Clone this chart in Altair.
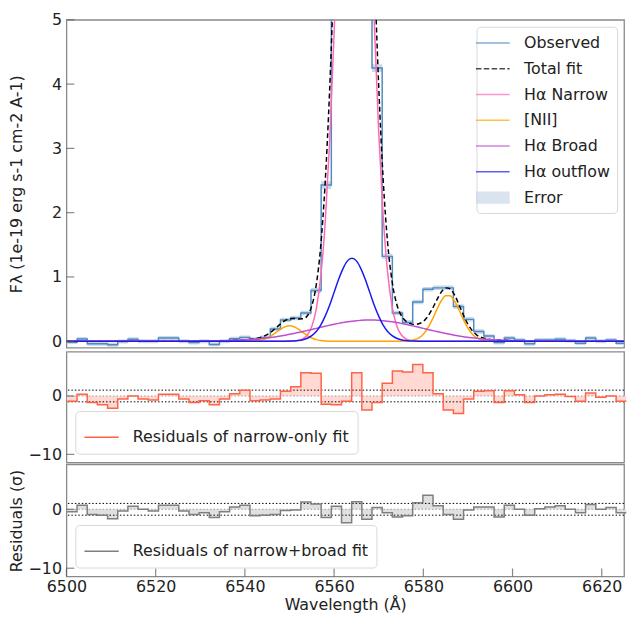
import altair as alt
import pandas as pd

# ---------------- data ----------------
# left edges of the spectral bins (last value = right edge of final bin)
bin_edges = [6500.1, 6502.38, 6504.66, 6506.94, 6509.22, 6511.5, 6513.78, 6516.06, 6518.34, 6520.62,
             6522.9, 6525.18, 6527.46, 6529.74, 6532.02, 6534.3, 6536.58, 6538.86, 6541.14, 6543.42,
             6545.7, 6547.98, 6550.26, 6552.54, 6554.82, 6557.1, 6559.38, 6561.66, 6563.94, 6566.22,
             6568.5, 6570.78, 6573.06, 6575.34, 6577.62, 6579.9, 6582.18, 6584.46, 6586.74, 6589.02,
             6591.3, 6593.58, 6595.86, 6598.14, 6600.42, 6602.7, 6604.98, 6607.26, 6609.54, 6611.82,
             6614.1, 6616.38, 6618.66, 6620.94, 6623.22, 6625.5]

observed = [-0.015, 0.035, -0.04, -0.04, -0.055, -0.005, 0.03, 0.0, 0.0, 0.05,
            0.05, 0.0, -0.02, 0.0, -0.05, 0.0, 0.04, 0.06, 0.03, 0.06,
            0.19, 0.33, 0.36, 0.44, 0.79, 2.43, 9.0, 14.0, 13.0, 7.5,
            4.25, 1.32, 0.44, 0.29, 0.61, 0.81, 0.83, 0.83, 0.54, 0.34,
            0.15, 0.08, -0.02, 0.05, 0.02, -0.04, 0.02, 0.02, 0.03, 0.01,
            -0.03, 0.05, 0.0, 0.02, -0.03]

error = [0.03, 0.03, 0.03, 0.03, 0.03, 0.03, 0.03, 0.03, 0.03, 0.03,
         0.03, 0.03, 0.03, 0.03, 0.03, 0.03, 0.03, 0.03, 0.03, 0.03,
         0.035, 0.035, 0.035, 0.035, 0.04, 0.06, 0.1, 0.1, 0.1, 0.1,
         0.06, 0.04, 0.035, 0.035, 0.035, 0.035, 0.035, 0.035, 0.035, 0.035,
         0.035, 0.03, 0.03, 0.03, 0.03, 0.03, 0.03, 0.03, 0.03, 0.03,
         0.03, 0.03, 0.03, 0.03, 0.03]

resid_narrow = [-0.9, 0.3, -1.1, -1.5, -2.1, -0.5, 0.0, -0.5, -0.7, 0.3,
                0.3, -0.5, -1.1, -0.8, -1.5, -0.5, 0.4, 1.0, -0.8, -0.7,
                -0.5, 0.8, 1.6, 4.0, 3.9, -1.4, -1.5, -0.9, 4.0, -2.4,
                -1.1, 2.2, 4.3, 4.1, 5.4, 4.0, 0.4, -2.4, -3.0, -0.5,
                0.8, 0.9, -1.1, 0.9, 0.2, -1.1, 0.0, 0.2, 0.3, -0.1,
                -0.9, 0.5, -0.2, 0.0, -0.9]

resid_broad = [-0.4, 0.7, -0.9, -1.0, -1.6, -0.3, 0.5, 0.0, -0.3, 0.7,
               0.7, -0.3, -0.9, -0.6, -1.4, -0.4, 0.4, 0.7, -1.1, -1.0,
               -0.9, -0.2, -0.1, 1.25, 0.9, -1.4, 0.5, -2.3, 1.3, -1.7,
               0.3, -0.6, -1.3, -1.1, 1.1, 2.4, 0.6, -0.9, -1.7, -0.1,
               0.4, 0.4, -1.3, 0.7, 0.0, -1.0, 0.1, 0.4, 0.6, 0.0,
               -0.6, 0.8, 0.0, 0.3, -0.6]

# model curves sampled on a wavelength grid
model_wave = [6500, 6510, 6520, 6525, 6530, 6533, 6536, 6538,
              6540, 6541, 6542, 6543, 6544, 6545, 6546, 6547, 6548, 6549,
              6550, 6551, 6552, 6553, 6554, 6555, 6556, 6557, 6558, 6559,
              6560, 6561, 6562, 6563, 6564, 6565, 6566, 6567, 6568, 6569,
              6570, 6571, 6572, 6573, 6574, 6575, 6576, 6577, 6578, 6579,
              6580, 6581, 6582, 6583, 6584, 6585, 6586, 6587, 6588, 6589,
              6590, 6591, 6592, 6593, 6594, 6595, 6596, 6597, 6598, 6599,
              6600, 6602, 6604, 6606, 6608, 6610, 6615, 6620, 6625]

ha_narrow = [0, 0, 0, 0, 0, 0, 0, 0,
             0, 0, 0, 0, 0, 0, 0, 0, 0, 0,
             0.001, 0.004, 0.013, 0.037, 0.096, 0.23, 0.50, 1.00, 1.84, 3.10,
             4.79, 6.80, 8.84, 10.55, 11.55, 11.6, 10.7, 9.03, 7.0, 4.98,
             3.25, 1.95, 1.07, 0.54, 0.25, 0.105, 0.041, 0.015, 0.005, 0.002,
             0, 0, 0, 0, 0, 0, 0, 0, 0, 0,
             0, 0, 0, 0, 0, 0, 0, 0, 0, 0,
             0, 0, 0, 0, 0, 0, 0, 0, 0]

nii = [0, 0, 0, 0, 0, 0, 0, 0,
       0, 0.001, 0.004, 0.011, 0.025, 0.050, 0.088, 0.137, 0.187, 0.225,
       0.240, 0.225, 0.187, 0.137, 0.088, 0.050, 0.025, 0.011, 0.004, 0.001,
       0, 0, 0, 0, 0, 0, 0, 0, 0, 0,
       0, 0, 0, 0, 0, 0, 0.003, 0.008, 0.022, 0.051,
       0.109, 0.203, 0.335, 0.487, 0.626, 0.709, 0.709, 0.626, 0.487, 0.335,
       0.203, 0.109, 0.051, 0.022, 0.008, 0.003, 0.001, 0, 0, 0,
       0, 0, 0, 0, 0, 0, 0, 0, 0]

ha_broad = [0, 0, 0, 0.001, 0.002, 0.005, 0.009, 0.015,
            0.022, 0.026, 0.032, 0.038, 0.045, 0.053, 0.061, 0.071, 0.082, 0.094,
            0.107, 0.121, 0.136, 0.151, 0.167, 0.183, 0.200, 0.217, 0.233, 0.249,
            0.264, 0.278, 0.291, 0.302, 0.312, 0.320, 0.325, 0.329, 0.330, 0.329,
            0.325, 0.320, 0.312, 0.302, 0.291, 0.278, 0.264, 0.249, 0.233, 0.217,
            0.200, 0.183, 0.167, 0.151, 0.136, 0.121, 0.107, 0.094, 0.082, 0.071,
            0.061, 0.053, 0.045, 0.038, 0.032, 0.026, 0.022, 0.018, 0.015, 0.012,
            0.009, 0.006, 0.004, 0.002, 0.001, 0.001, 0, 0, 0]

ha_outflow = [0, 0, 0, 0, 0, 0, 0, 0,
              0, 0, 0, 0, 0, 0, 0, 0.001, 0.001, 0.001,
              0.002, 0.005, 0.011, 0.023, 0.046, 0.087, 0.15, 0.25, 0.39, 0.56,
              0.76, 0.96, 1.13, 1.25, 1.29, 1.25, 1.13, 0.96, 0.76, 0.56,
              0.39, 0.25, 0.15, 0.087, 0.046, 0.023, 0.011, 0.005, 0.002, 0.001,
              0, 0, 0, 0, 0, 0, 0, 0, 0, 0,
              0, 0, 0, 0, 0, 0, 0, 0, 0, 0,
              0, 0, 0, 0, 0, 0, 0, 0, 0]

total_fit = [0, 0, 0, 0.001, 0.002, 0.005, 0.009, 0.015,
             0.022, 0.027, 0.036, 0.049, 0.070, 0.103, 0.149, 0.209, 0.270, 0.320,
             0.350, 0.355, 0.347, 0.348, 0.397, 0.55, 0.875, 1.478, 2.467, 3.91,
             5.81, 8.04, 10.26, 12.10, 13.15, 13.17, 12.16, 10.32, 8.09, 5.87,
             3.97, 2.52, 1.53, 0.93, 0.587, 0.406, 0.319, 0.277, 0.262, 0.271,
             0.309, 0.386, 0.502, 0.638, 0.762, 0.830, 0.816, 0.720, 0.569, 0.406,
             0.264, 0.162, 0.096, 0.060, 0.040, 0.029, 0.023, 0.018, 0.015, 0.012,
             0.009, 0.006, 0.004, 0.002, 0.001, 0.001, 0, 0, 0]

x_ticks = [6500, 6520, 6540, 6560, 6580, 6600, 6620]
flux_ticks = [0, 1, 2, 3, 4, 5]
resid_ticks = [-10, 0]
sigma_levels = [-1, 1]

names = ["Observed", "Total fit", "Hα Narrow", "[NII]", "Hα Broad", "Hα outflow", "Error"]
colors = ["#4f8bc2", "#000000", "#ff69b4", "#ffa500", "#bf4fd0", "#1a1af2", "#c9d8ea"]
col = dict(zip(names, colors))

# legend glyphs: thin bar = line, dashed bar = dashed line, tall bar = filled patch
LINE = "M-2,-0.09H2V0.09H-2Z"
DASH = ("M-2,-0.09H-1.35V0.09H-2Z M-1.07,-0.09H-0.42V0.09H-1.07Z "
        "M-0.14,-0.09H0.51V0.09H-0.14Z M0.79,-0.09H1.44V0.09H0.79Z M1.72,-0.09H2V0.09H1.72Z")
PATCH = "M-2,-0.73H2V0.73H-2Z"
glyphs = [LINE, DASH, LINE, LINE, LINE, LINE, PATCH]

# ---------------- tables ----------------
spec = pd.DataFrame({
    "wave": bin_edges,
    "flux": observed + [observed[-1]],
    "err": error + [error[-1]],
    "r1": resid_narrow + [resid_narrow[-1]],
    "r2": resid_broad + [resid_broad[-1]],
})
curves = [("Total fit", total_fit), ("Hα Narrow", ha_narrow), ("[NII]", nii),
          ("Hα Broad", ha_broad), ("Hα outflow", ha_outflow)]

FONT = "DejaVu Sans"
W = 563
H_TOP, H_MID, H_BOT = 331, 112, 113
TICK = "#555555"

xscale = alt.Scale(domain=[6500, 6625], nice=False, zero=False)
X_none = alt.X("wave:Q", scale=xscale, axis=None)

ytop = alt.Scale(domain=[-0.1, 5], nice=False, zero=False)
ytop_axis = alt.Axis(values=flux_ticks, title="Fλ (1e-19 erg s-1 cm-2 A-1)", ticks=False,
                     domain=False, grid=False, labelFontSize=16, titleFontSize=16,
                     titleFontWeight="normal", labelPadding=5, titlePadding=6,
                     minExtent=36, maxExtent=36)

band = alt.Chart(spec).transform_calculate(
    lo="datum.flux - datum.err", hi="datum.flux + datum.err"
).mark_area(interpolate="step-after", clip=True, color=col["Error"]).encode(
    x=X_none, y=alt.Y("lo:Q", scale=ytop, axis=ytop_axis), y2="hi:Q")

obs = alt.Chart(spec).mark_line(
    interpolate="step-after", clip=True, strokeWidth=1.5, color=col["Observed"]).encode(
    x=X_none, y=alt.Y("flux:Q", scale=ytop, axis=ytop_axis))

layers = [band, obs]
for nm, vals in curves:
    df = pd.DataFrame({"wave": model_wave, "value": vals})
    mk = dict(interpolate="monotone", clip=True, strokeWidth=1.5, color=col[nm])
    if nm == "Total fit":
        mk["strokeDash"] = [5, 3]
    layers.append(alt.Chart(df).mark_line(**mk).encode(
        x=X_none, y=alt.Y("value:Q", scale=ytop, axis=ytop_axis)))

# inward tick marks on the left edge
layers.append(alt.Chart(pd.DataFrame({"value": flux_ticks})).mark_tick(
    orient="horizontal", size=8, thickness=1.2, color=TICK).encode(
    y=alt.Y("value:Q", scale=ytop, axis=ytop_axis), x=alt.value(4)))

# legend carrier: one hidden point per series (below the visible y range, clipped away)
leg = alt.Legend(title=None, orient="top-right", offset=7, symbolSize=289,
                 labelFontSize=16, labelFont=FONT, padding=7,
                 rowPadding=8, labelOffset=22, labelLimit=400, strokeColor="#d8d8d8",
                 fillColor="#ffffff", cornerRadius=4)
carrier_df = pd.DataFrame({"series": names, "wave": [6500] * len(names), "value": [-1] * len(names)})
carrier = alt.Chart(carrier_df).mark_point(filled=True, clip=True, strokeWidth=0).encode(
    x=X_none, y=alt.Y("value:Q", scale=ytop, axis=ytop_axis),
    color=alt.Color("series:N", scale=alt.Scale(domain=names, range=colors), legend=leg),
    shape=alt.Shape("series:N", scale=alt.Scale(domain=names, range=glyphs), legend=leg))
layers.append(carrier)

top = alt.layer(*layers).properties(width=W, height=H_TOP)

# ---------------- residual panels ----------------
yres = alt.Scale(domain=[-11.4, 7.6], nice=False, zero=False)


def res_panel(colname, label, line_color, fill_color, height, title, xaxis):
    yax = alt.Axis(values=resid_ticks, title=title, ticks=False, domain=False, grid=False,
                   labelFontSize=16, titleFontSize=16, titleFontWeight="normal",
                   labelPadding=5, titlePadding=6, minExtent=36, maxExtent=36)
    X = alt.X("wave:Q", scale=xscale, axis=xaxis)
    rleg = alt.Legend(title=None, orient="bottom-left", offset=9, symbolType="stroke",
                      symbolSize=1200, symbolStrokeWidth=1.5, labelFontSize=16,
                      labelFont=FONT, padding=8, labelOffset=13, labelLimit=400,
                      strokeColor="#d8d8d8", fillColor="#ffffff", cornerRadius=4)
    area = alt.Chart(spec).mark_area(interpolate="step-after", color=fill_color).encode(
        x=X, y=alt.Y(f"{colname}:Q", scale=yres, axis=yax), y2=alt.datum(0))
    line = alt.Chart(spec).transform_calculate(lab=f"'{label}'").mark_line(
        interpolate="step-after", strokeWidth=1.5).encode(
        x=X, y=alt.Y(f"{colname}:Q", scale=yres, axis=yax),
        color=alt.Color("lab:N", scale=alt.Scale(domain=[label], range=[line_color]), legend=rleg))
    rules = alt.Chart(pd.DataFrame({"lvl": sigma_levels})).mark_rule(
        color="#000000", strokeDash=[1.5, 2], strokeWidth=1).encode(
        y=alt.Y("lvl:Q", scale=yres, axis=yax))
    zero = alt.Chart(pd.DataFrame({"lvl": [0]})).mark_rule(
        color="#9a9a9a", strokeDash=[1.5, 2], strokeWidth=1).encode(
        y=alt.Y("lvl:Q", scale=yres, axis=yax))
    yt = alt.Chart(pd.DataFrame({"lvl": resid_ticks})).mark_tick(
        orient="horizontal", size=8, thickness=1.2, color=TICK).encode(
        y=alt.Y("lvl:Q", scale=yres, axis=yax), x=alt.value(4))
    parts = [area, zero, rules, line, yt]
    if xaxis is not None:
        xt = alt.Chart(pd.DataFrame({"wave": x_ticks})).mark_tick(
            orient="vertical", size=8, thickness=1.2, color=TICK).encode(
            x=X, y=alt.value(height - 4))
        parts.append(xt)
    return alt.layer(*parts).properties(width=W, height=height)


mid = res_panel("r1", "Residuals of narrow-only fit", "#ff6347", "#ffd9d2", H_MID, None, None)
bot_xaxis = alt.Axis(values=x_ticks, format="d", title="Wavelength (Å)", ticks=False,
                     domain=False, grid=False, labelFontSize=16, titleFontSize=16,
                     titleFontWeight="normal", labelPadding=2, titlePadding=2,
                     labelFlush=False)
bot = res_panel("r2", "Residuals of narrow+broad fit", "#7f7f7f", "#e0e0e0", H_BOT,
                "Residuals (σ)", bot_xaxis)

chart = alt.vconcat(top, mid, bot, spacing=0).resolve_scale(
    color="independent", shape="independent"
).resolve_legend(
    color="independent", shape="independent"
).configure_view(stroke="#8a8a8a", strokeWidth=1.3).configure_axis(
    labelFont=FONT, titleFont=FONT, labelColor="#222222", titleColor="#222222"
).configure_legend(labelFont=FONT, labelColor="#222222").properties(
    padding={"left": 0, "top": 0, "right": 0, "bottom": 0})

chart.save("out.html", embed_options={"renderer": "svg", "actions": False})
